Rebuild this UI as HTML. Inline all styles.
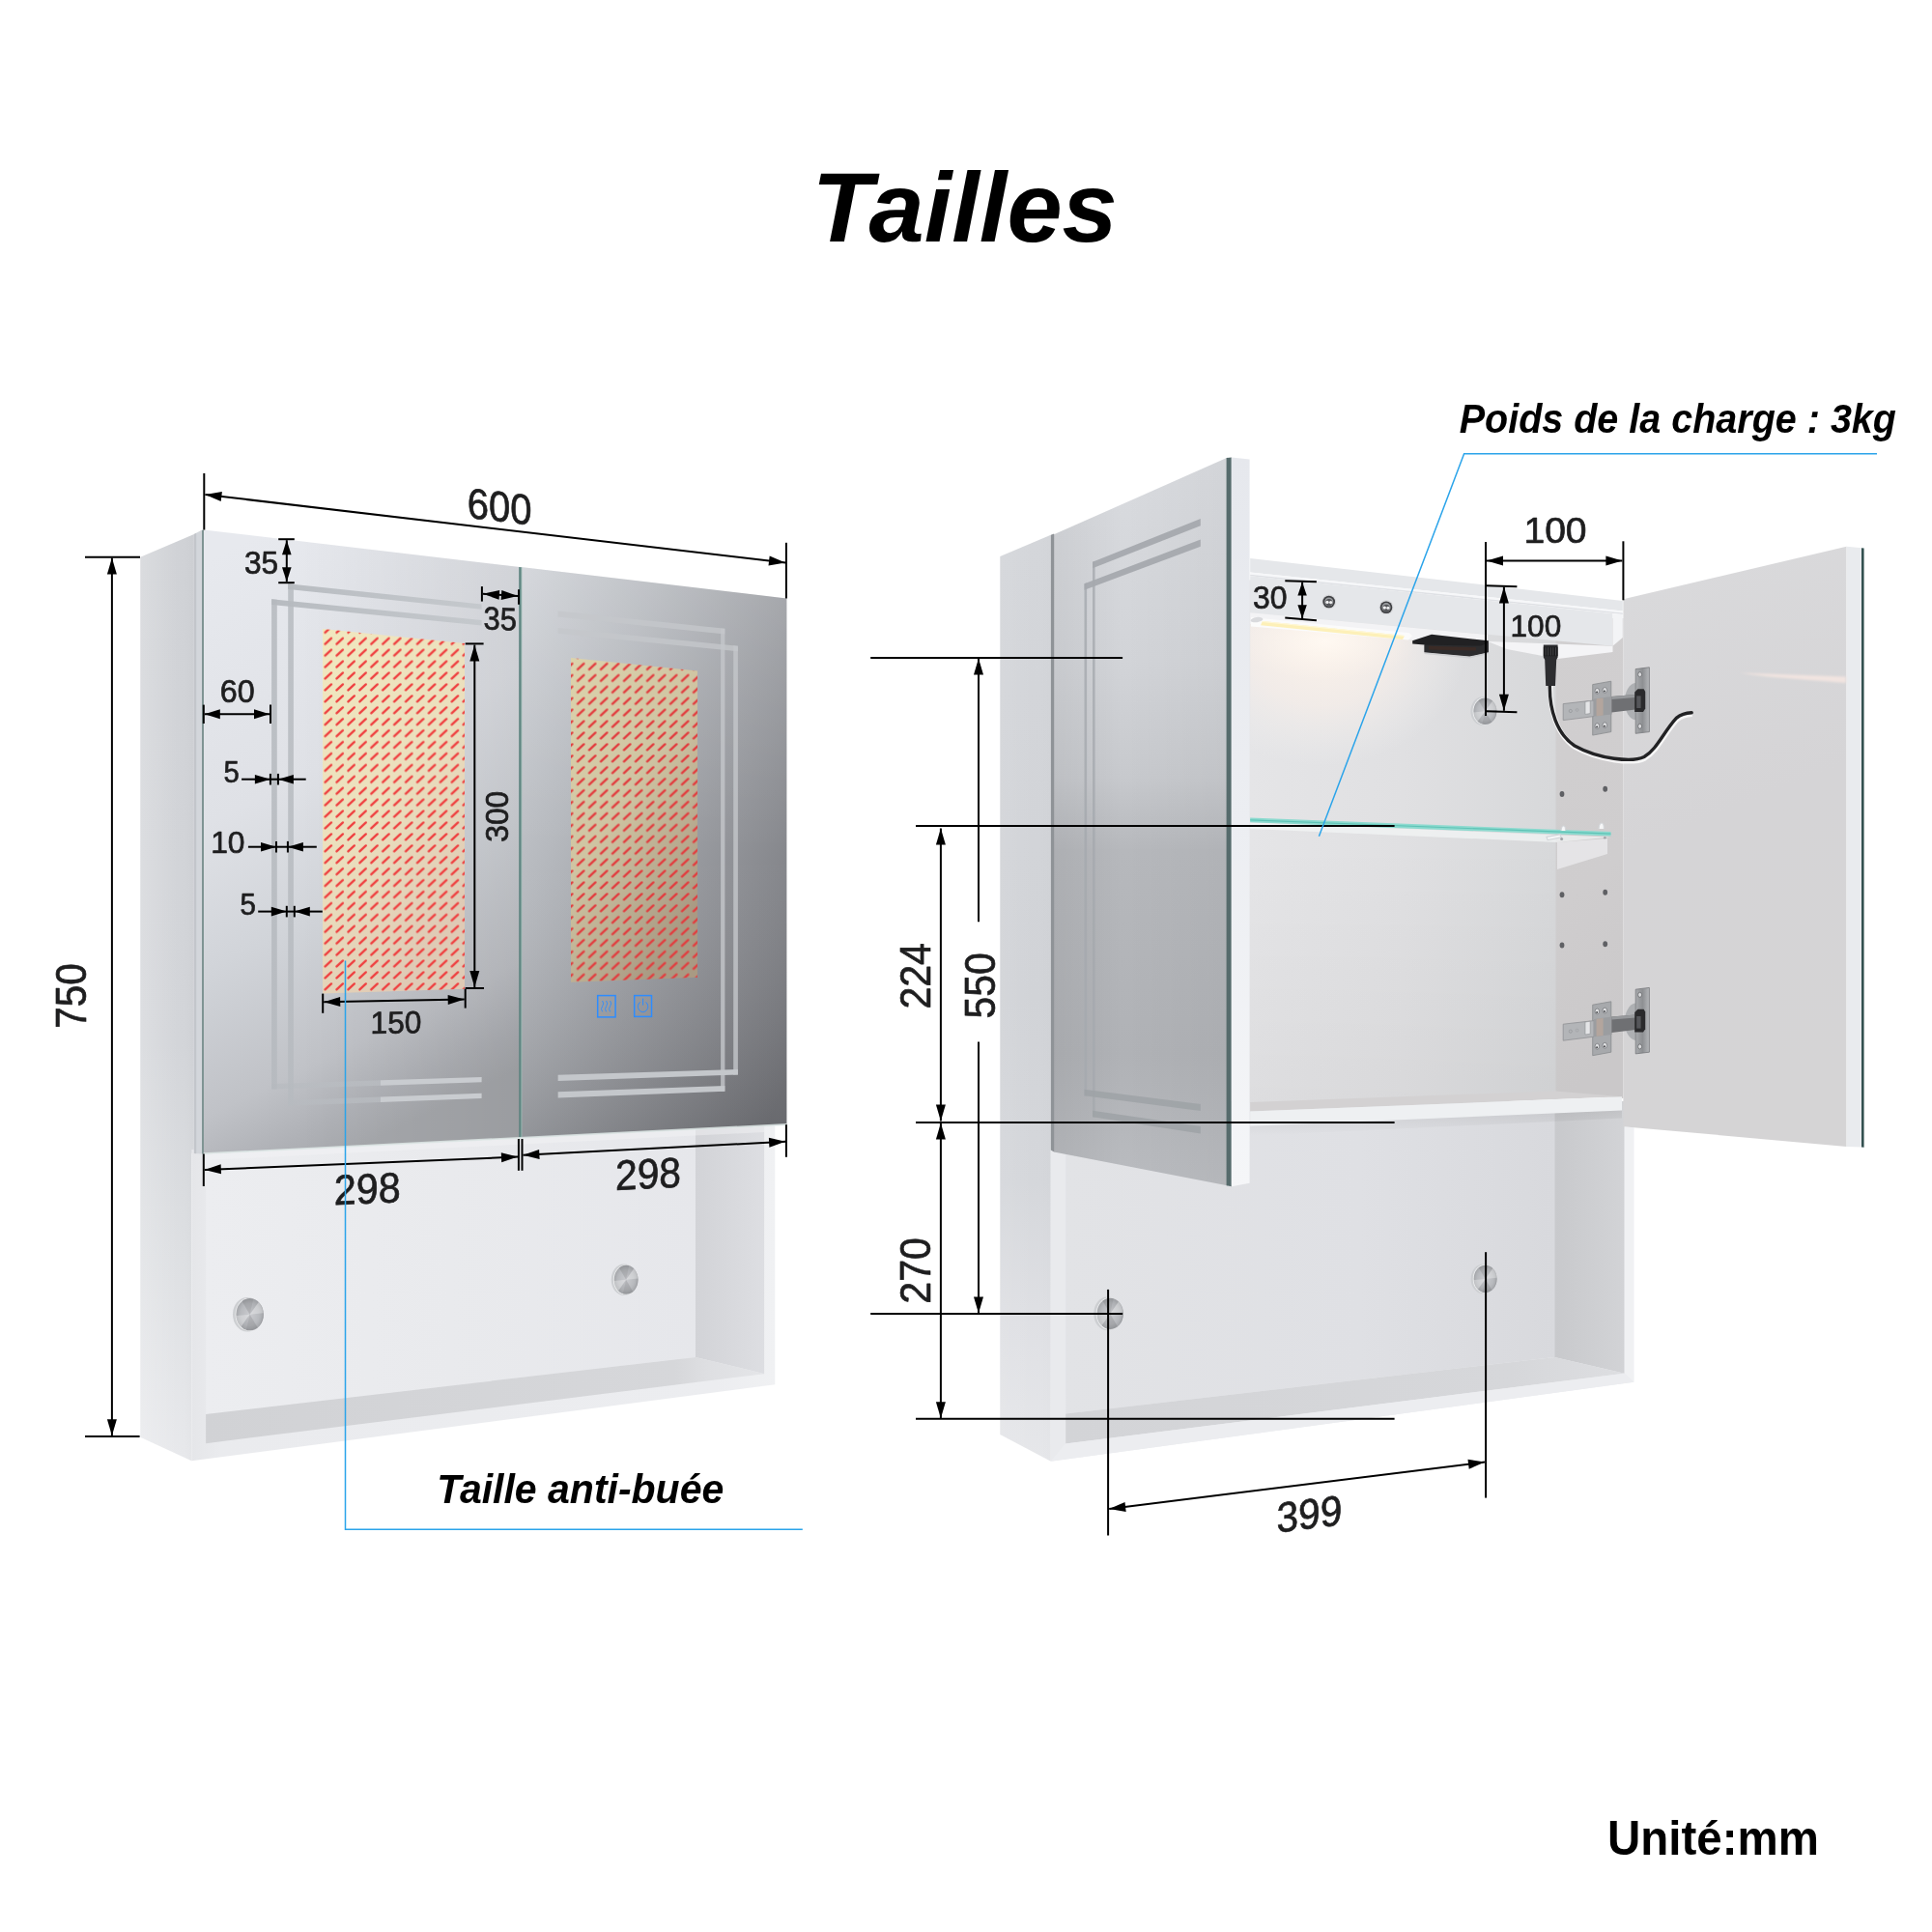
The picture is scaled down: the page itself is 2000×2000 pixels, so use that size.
<!DOCTYPE html>
<html><head><meta charset="utf-8"><title>Tailles</title>
<style>
html,body{margin:0;padding:0;background:#fff;}
body{width:2000px;height:2000px;overflow:hidden;font-family:"Liberation Sans",sans-serif;}
svg{display:block;font-family:"Liberation Sans",sans-serif;opacity:0.999;}
</style></head><body>
<svg xmlns="http://www.w3.org/2000/svg" width="2000" height="2000" viewBox="0 0 2000 2000">
<defs>
<linearGradient id="gSideL" x1="0" y1="0" x2="0" y2="1"><stop offset="0" stop-color="#d0d2d6"/><stop offset="0.55" stop-color="#d3d5d9"/><stop offset="0.76" stop-color="#dddfe2"/><stop offset="1" stop-color="#e8e9ec"/></linearGradient>
<linearGradient id="gSideLx" x1="0" y1="0" x2="1" y2="0"><stop offset="0" stop-color="#fff" stop-opacity="0.22"/><stop offset="0.7" stop-color="#fff" stop-opacity="0"/><stop offset="1" stop-color="#000" stop-opacity="0.02"/></linearGradient>
<linearGradient id="gMirL" x1="0.2" y1="0" x2="0.45" y2="1"><stop offset="0" stop-color="#e7e9ee"/><stop offset="0.40" stop-color="#dfe1e6"/><stop offset="0.62" stop-color="#d1d4d9"/><stop offset="0.84" stop-color="#c0c2c7"/><stop offset="0.94" stop-color="#afb1b6"/><stop offset="1" stop-color="#a7a9ad"/></linearGradient>
<linearGradient id="gMirR" x1="0" y1="0" x2="1" y2="0.9"><stop offset="0" stop-color="#d0d3d8"/><stop offset="0.3" stop-color="#b6b9be"/><stop offset="0.6" stop-color="#999ba0"/><stop offset="1" stop-color="#737479"/></linearGradient>
<linearGradient id="gMirRv" x1="0" y1="0" x2="0" y2="1"><stop offset="0" stop-color="#fff" stop-opacity="0.12"/><stop offset="0.5" stop-color="#fff" stop-opacity="0"/><stop offset="1" stop-color="#000" stop-opacity="0.10"/></linearGradient>
<linearGradient id="gBackL" x1="0" y1="0" x2="1" y2="0"><stop offset="0" stop-color="#ecedf0"/><stop offset="0.5" stop-color="#e9eaed"/><stop offset="1" stop-color="#e6e7eb"/></linearGradient>
<linearGradient id="gWallLR" x1="0" y1="0" x2="1" y2="0"><stop offset="0" stop-color="#d2d3d7"/><stop offset="1" stop-color="#dddee2"/></linearGradient>
<linearGradient id="gFloorL" x1="0" y1="0" x2="1" y2="0"><stop offset="0" stop-color="#d1d2d5"/><stop offset="0.84" stop-color="#d6d7da"/><stop offset="0.9" stop-color="#dedfe2"/><stop offset="1" stop-color="#e4e5e8"/></linearGradient>
<pattern id="padPat" width="11.92" height="11.92" patternUnits="userSpaceOnUse" patternTransform="translate(334.2,658.4)"><line x1="2.4" y1="8.3" x2="8.8" y2="2.4" stroke="#ef4040" stroke-width="2.4" stroke-linecap="round"/></pattern>
<pattern id="padPatR" width="12.0" height="11.92" patternUnits="userSpaceOnUse" patternTransform="translate(595.6,684.6)"><line x1="2.4" y1="8.3" x2="8.8" y2="2.4" stroke="#e23c3e" stroke-width="2.4" stroke-linecap="round"/></pattern>
<linearGradient id="gPadL" x1="0" y1="0" x2="0.5" y2="1"><stop offset="0" stop-color="#f1e8bf"/><stop offset="0.55" stop-color="#ebdfbd"/><stop offset="1" stop-color="#dfcab5"/></linearGradient>
<linearGradient id="gPadR" x1="0" y1="0" x2="0.6" y2="1"><stop offset="0" stop-color="#dcd3ac"/><stop offset="0.5" stop-color="#cfc4a2"/><stop offset="1" stop-color="#a99a83"/></linearGradient>
<radialGradient id="gKnob" cx="0.5" cy="0.5" r="0.5"><stop offset="0" stop-color="#cbccd0"/><stop offset="0.7" stop-color="#b7b9bd"/><stop offset="1" stop-color="#a4a6aa"/></radialGradient>
<linearGradient id="gSideR" x1="0" y1="0" x2="0" y2="1"><stop offset="0" stop-color="#d4d6da"/><stop offset="0.5" stop-color="#d1d3d7"/><stop offset="0.7" stop-color="#d5d7db"/><stop offset="0.85" stop-color="#dfe0e4"/><stop offset="1" stop-color="#e6e7ea"/></linearGradient>
<linearGradient id="gDoorO" x1="0" y1="0" x2="0" y2="1"><stop offset="0" stop-color="#d9dbdf"/><stop offset="0.28" stop-color="#d2d4d8"/><stop offset="0.44" stop-color="#c7c9cd"/><stop offset="0.54" stop-color="#b6b8bc"/><stop offset="0.82" stop-color="#b0b2b6"/><stop offset="1" stop-color="#babcc0"/></linearGradient>
<linearGradient id="gDoorOx" x1="0" y1="0" x2="1" y2="0"><stop offset="0" stop-color="#000" stop-opacity="0.05"/><stop offset="0.4" stop-color="#000" stop-opacity="0"/><stop offset="1" stop-color="#000" stop-opacity="0.03"/></linearGradient>
<linearGradient id="gDoorEdge" x1="0" y1="0" x2="0" y2="1"><stop offset="0" stop-color="#e6e8ed"/><stop offset="0.5" stop-color="#eceef2"/><stop offset="1" stop-color="#f5f6f8"/></linearGradient>
<radialGradient id="gGlow" cx="0.5" cy="0.5" r="0.5"><stop offset="0" stop-color="#fbf2ea" stop-opacity="1"/><stop offset="0.5" stop-color="#f6eee9" stop-opacity="0.75"/><stop offset="1" stop-color="#efefef" stop-opacity="0"/></radialGradient>
<linearGradient id="gDoorR" x1="0" y1="0" x2="0.15" y2="1"><stop offset="0" stop-color="#dadadc"/><stop offset="0.5" stop-color="#d5d4d6"/><stop offset="1" stop-color="#d5d4d5"/></linearGradient>
<linearGradient id="gBackR2" x1="0" y1="0" x2="1" y2="0"><stop offset="0" stop-color="#e2e3e6"/><stop offset="0.6" stop-color="#dfe0e4"/><stop offset="1" stop-color="#d8d9dd"/></linearGradient>
<linearGradient id="gHinge" x1="0" y1="0" x2="1" y2="0"><stop offset="0" stop-color="#a9abae"/><stop offset="0.5" stop-color="#8d8f92"/><stop offset="1" stop-color="#b5b7ba"/></linearGradient>
<linearGradient id="gWallR2" x1="0" y1="0" x2="1" y2="0"><stop offset="0" stop-color="#c8c9cc"/><stop offset="1" stop-color="#d2d3d6"/></linearGradient>
<linearGradient id="gFloorR" x1="0" y1="0" x2="1" y2="0"><stop offset="0" stop-color="#d3d4d7"/><stop offset="0.8" stop-color="#d6d7da"/><stop offset="1" stop-color="#dddee1"/></linearGradient>
<linearGradient id="gMirLx" x1="0" y1="0" x2="1" y2="0"><stop offset="0.3" stop-color="#000" stop-opacity="0"/><stop offset="1" stop-color="#000" stop-opacity="0.075"/></linearGradient>
<linearGradient id="gLedL" gradientUnits="userSpaceOnUse" x1="281" y1="0" x2="499" y2="0"><stop offset="0" stop-color="#b5b9be"/><stop offset="1" stop-color="#c4c8cc"/></linearGradient>
<radialGradient id="gGlow2" cx="0.5" cy="0.5" r="0.5"><stop offset="0" stop-color="#fff9f2" stop-opacity="0.95"/><stop offset="1" stop-color="#fbf3ec" stop-opacity="0"/></radialGradient>
<linearGradient id="gFrameL" x1="0" y1="0" x2="1" y2="0"><stop offset="0" stop-color="#e5e6e9"/><stop offset="0.05" stop-color="#eaebee"/><stop offset="0.9" stop-color="#ecedf0"/><stop offset="1" stop-color="#f0f1f3"/></linearGradient>
<linearGradient id="gBackRU" gradientUnits="userSpaceOnUse" x1="1294" y1="0" x2="1610" y2="0"><stop offset="0" stop-color="#e5e5e7"/><stop offset="0.5" stop-color="#e0e0e2"/><stop offset="1" stop-color="#d7d8da"/></linearGradient>
<linearGradient id="gDarkV" x1="0" y1="0" x2="0" y2="1"><stop offset="0" stop-color="#000" stop-opacity="0"/><stop offset="0.5" stop-color="#000" stop-opacity="0"/><stop offset="1" stop-color="#000" stop-opacity="0.035"/></linearGradient>
<linearGradient id="gWallRU" x1="0" y1="0" x2="0.12" y2="1"><stop offset="0" stop-color="#d1cfd0"/><stop offset="0.6" stop-color="#cfcdce"/><stop offset="1" stop-color="#cac8c9"/></linearGradient>
<linearGradient id="gShelfSh" x1="0" y1="0" x2="0" y2="1"><stop offset="0" stop-color="#000" stop-opacity="0.07"/><stop offset="1" stop-color="#000" stop-opacity="0"/></linearGradient>
<filter id="b1"><feGaussianBlur stdDeviation="1"/></filter>
<filter id="b3"><feGaussianBlur stdDeviation="3"/></filter>
<filter id="b12"><feGaussianBlur stdDeviation="14"/></filter>
</defs>

<text transform="translate(847.6,250.1) scale(1.013,1)" x="-7" y="0" font-size="101.5" font-weight="bold" font-style="italic" fill="#000">Tailles</text>
<text transform="translate(1666.7,1920.4) scale(0.939,1)" x="-3" y="0" font-size="50.6" font-weight="bold" fill="#000">Unité:mm</text>
<text transform="translate(1511.6,447.8) scale(0.921,1)" x="-1" y="0" font-size="42.9" font-weight="bold" font-style="italic" fill="#000">Poids de la charge : 3kg</text>
<text transform="translate(455.2,1555.6) scale(0.947,1)" x="-3" y="0" font-size="43.3" font-weight="bold" font-style="italic" fill="#000">Taille anti-buée</text>
<g id="leftcab">
<polygon points="145.3,576.8 200.9,553.0 200.9,1194.0 198.3,1194.0 198.3,1512.3 145.3,1487.7" fill="url(#gSideL)"/>
<polygon points="145.3,576.8 200.9,553.0 200.9,1194.0 198.3,1194.0 198.3,1512.3 145.3,1487.7" fill="url(#gSideLx)"/>
<polygon points="198.3,1190.0 802.3,1160.0 802.3,1433.3 198.3,1512.3" fill="url(#gFrameL)"/>
<polygon points="213.1,1190.0 720.0,1165.0 720.0,1404.9 213.1,1464.0" fill="url(#gBackL)"/>
<polygon points="720.0,1165.0 791.1,1162.0 791.1,1422.2 720.0,1404.9" fill="url(#gWallLR)"/>
<polygon points="213.1,1464.0 720.0,1404.9 791.1,1422.2 213.1,1494.2" fill="url(#gFloorL)"/>
<polygon points="213.1,1188.0 791.1,1160.0 791.1,1172.0 213.1,1201.0" fill="#f4f5f7" opacity="0.45"/>
<polygon points="200.9,553.0 209.2,548.6 209.2,1194.5 200.9,1194.0" fill="#d3d6db"/>
<polygon points="200.9,553.0 203.2,551.8 203.2,1194.2 200.9,1194.0" fill="#c3c6cb"/>
<polygon points="210.8,548.5 538.2,587.0 538.2,1178.1 210.8,1194.5" fill="url(#gMirL)"/>
<polygon points="210.8,548.5 538.2,587.0 538.2,1178.1 210.8,1194.5" fill="url(#gMirLx)"/>
<polygon points="539.4,587.1 814.4,619.5 814.4,1164.3 539.4,1178.1" fill="url(#gMirR)"/>
<polygon points="539.4,587.1 814.4,619.5 814.4,1164.3 539.4,1178.1" fill="url(#gMirRv)"/>
<polygon points="209.0,548.7 211.0,548.5 211.0,1194.5 209.0,1194.5" fill="#7f9493"/>
<polygon points="537.2,586.9 540.0,587.2 540.0,1178.0 537.2,1178.2" fill="#5f8581"/>
<polygon points="539.4,587.1 540.4,587.3 540.4,1178.0 539.4,1178.1" fill="#9dbab6" opacity="0.9"/>
<polygon points="210.8,1193.3 814.4,1163.1 814.4,1164.9 210.8,1195.1" fill="#dfe9e8" opacity="0.85"/>
<polygon points="298.2,604.2 498.6,625.4 498.6,630.8 298.2,609.9" fill="url(#gLedL)" opacity="0.95"/>
<polygon points="298.2,604.2 303.9,604.8 303.9,1144.5 298.2,1144.7" fill="url(#gLedL)" opacity="0.85"/>
<polygon points="281.1,620.2 498.6,642.1 498.6,647.5 281.1,625.9" fill="url(#gLedL)" opacity="0.95"/>
<polygon points="281.1,620.2 286.8,620.8 286.8,1127.4 281.1,1127.6" fill="url(#gLedL)" opacity="0.85"/>
<polygon points="281.1,1121.9 394.0,1118.3 394.0,1123.8 281.1,1127.6" fill="url(#gLedL)" opacity="0.6"/>
<polygon points="298.2,1139.0 394.0,1135.5 394.0,1141.0 298.2,1144.7" fill="url(#gLedL)" opacity="0.6"/>
<polygon points="394.0,1118.3 498.6,1115.0 498.6,1120.3 394.0,1123.8" fill="#c9ccd0"/>
<polygon points="394.0,1135.5 498.6,1131.7 498.6,1137.1 394.0,1141.0" fill="#c9ccd0"/>
<polygon points="577.6,632.6 750.4,650.8 750.4,656.4 577.6,638.4" fill="#c4c7cb" opacity="0.8"/>
<polygon points="746.1,650.4 750.4,650.8 750.4,1129.7 746.1,1129.9" fill="#c4c7cb" opacity="0.8"/>
<polygon points="577.6,1130.3 750.4,1123.9 750.4,1129.7 577.6,1136.4" fill="#c4c7cb" opacity="1"/>
<polygon points="577.6,649.9 763.9,668.7 763.9,674.2 577.6,655.7" fill="#c4c7cb" opacity="0.8"/>
<polygon points="759.2,668.2 763.9,668.7 763.9,1112.6 759.2,1112.8" fill="#c4c7cb" opacity="0.8"/>
<polygon points="577.6,1112.8 763.9,1106.9 763.9,1112.6 577.6,1118.9" fill="#c4c7cb" opacity="1"/>
<polygon points="334.0,650.9 481.0,665.9 481.0,1023.7 334.0,1028.6" fill="url(#gPadL)"/><polygon points="334.0,650.9 481.0,665.9 481.0,1023.7 334.0,1028.6" fill="url(#padPat)"/>
<polygon points="591.0,681.0 722.0,694.4 722.0,1011.7 591.0,1016.7" fill="url(#gPadR)"/><polygon points="591.0,681.0 722.0,694.4 722.0,1011.7 591.0,1016.7" fill="url(#padPatR)"/>
<g fill="none" stroke="#2d8cff" stroke-width="1.5"><rect x="618.7" y="1030.6" width="18.4" height="22.3"/><rect x="656.7" y="1030.6" width="17.8" height="21.8"/><path d="M623.6,1036 q2.2,3 0,5.6 q-2.2,2.8 0,5.8 M627.6,1036 q2.2,3 0,5.6 q-2.2,2.8 0,5.8 M631.6,1036 q2.2,3 0,5.6 q-2.2,2.8 0,5.8" stroke-width="0.9"/><path d="M662.6,1037.4 a5.2,5.6 0 1 0 6,0 M665.6,1033.6 v7" stroke-width="1.0"/></g>
<ellipse cx="256.0" cy="1360.7" rx="15.0" ry="17.8" fill="#cdcfd2"/>
<ellipse cx="257.8" cy="1360.7" rx="14.2" ry="17.0" fill="#f1f2f3"/>
<ellipse cx="258.6" cy="1360.7" rx="14.2" ry="16.6" fill="url(#gKnob)"/>
<path d="M261.4,1344.4 A14.2,16.6 0 0 1 261.4,1377.0 A13.2,16.6 0 0 0 261.4,1344.4 Z" fill="#8e9094" opacity="0.55"/>
<path d="M258.6,1360.7 L267.7,1348.0 A14.2,16.6 0 0 1 272.7,1359.3 Z" fill="#fff" opacity="0.3"/>
<path d="M258.6,1360.7 L249.5,1373.4 A14.2,16.6 0 0 1 244.5,1362.1 Z" fill="#fff" opacity="0.3"/>
<path d="M258.6,1360.7 L250.5,1347.1 A14.2,16.6 0 0 1 262.3,1344.7 Z" fill="#000" opacity="0.1"/>
<path d="M258.6,1360.7 L266.7,1374.3 A14.2,16.6 0 0 1 254.9,1376.7 Z" fill="#000" opacity="0.1"/>
<path d="M258.6,1360.7 L262.3,1344.7 A14.2,16.6 0 0 1 267.7,1348.0 Z" fill="#000" opacity="0.04"/>
<path d="M258.6,1360.7 L254.9,1376.7 A14.2,16.6 0 0 1 249.5,1373.4 Z" fill="#000" opacity="0.04"/>
<ellipse cx="645.9" cy="1324.8" rx="13.2" ry="16.2" fill="#cdcfd2"/>
<ellipse cx="647.3" cy="1324.8" rx="12.4" ry="15.4" fill="#f1f2f3"/>
<ellipse cx="648.1" cy="1324.8" rx="12.4" ry="15.0" fill="url(#gKnob)"/>
<path d="M650.6,1310.1 A12.4,15.0 0 0 1 650.6,1339.5 A11.5,15.0 0 0 0 650.6,1310.1 Z" fill="#8e9094" opacity="0.55"/>
<path d="M648.1,1324.8 L656.1,1313.3 A12.4,15.0 0 0 1 660.5,1323.5 Z" fill="#fff" opacity="0.3"/>
<path d="M648.1,1324.8 L640.1,1336.3 A12.4,15.0 0 0 1 635.7,1326.1 Z" fill="#fff" opacity="0.3"/>
<path d="M648.1,1324.8 L641.0,1312.5 A12.4,15.0 0 0 1 651.3,1310.3 Z" fill="#000" opacity="0.1"/>
<path d="M648.1,1324.8 L655.2,1337.1 A12.4,15.0 0 0 1 644.9,1339.3 Z" fill="#000" opacity="0.1"/>
<path d="M648.1,1324.8 L651.3,1310.3 A12.4,15.0 0 0 1 656.1,1313.3 Z" fill="#000" opacity="0.04"/>
<path d="M648.1,1324.8 L644.9,1339.3 A12.4,15.0 0 0 1 640.1,1336.3 Z" fill="#000" opacity="0.04"/>
</g>
<g id="rightcab">
<polygon points="1087.8,1150.0 1691.3,1150.0 1691.3,1430.8 1087.8,1512.7" fill="#ecedf0"/>
<polygon points="1103.1,1140.0 1609.3,1140.0 1609.3,1404.9 1103.1,1463.5" fill="url(#gBackR2)"/>
<polygon points="1609.3,1140.0 1681.7,1140.0 1681.7,1421.7 1609.3,1404.9" fill="url(#gWallR2)"/>
<polygon points="1103.1,1463.5 1609.3,1404.9 1681.7,1421.7 1103.1,1494.6" fill="url(#gFloorR)"/>
<polygon points="1290.0,600.0 1612.0,640.0 1612.0,1134.0 1290.0,1142.0" fill="url(#gBackRU)"/>
<polygon points="1290.0,600.0 1612.0,640.0 1612.0,1134.0 1290.0,1142.0" fill="url(#gDarkV)"/>
<clipPath id="cGlow"><polygon points="1294.2,646.0 1462.0,662.5 1540.0,666.0 1612.0,682.0 1612.0,1134.0 1294.2,1142.0"/></clipPath>
<g clip-path="url(#cGlow)"><ellipse cx="1368" cy="668" rx="150" ry="125" fill="url(#gGlow)"/><ellipse cx="1372" cy="664" rx="95" ry="40" fill="url(#gGlow2)"/></g>
<polygon points="1610.5,640.0 1680.4,640.0 1680.4,1137.0 1610.5,1130.5" fill="url(#gWallRU)"/>
<polygon points="1540.0,664.0 1669.5,668.7 1669.5,675.0 1612.6,682.0 1560.0,672.0" fill="#f4f4f6"/>
<polygon points="1294.2,1140.9 1610.0,1129.6 1679.0,1135.3 1294.2,1150.6" fill="#d3d1d2"/>
<polygon points="1294.2,1150.6 1679.0,1135.3 1679.0,1149.6 1294.2,1165.7" fill="#eef0f2"/>
<polygon points="1294.2,1165.7 1679.0,1149.6 1679.0,1157.6 1294.2,1175.7" fill="url(#gShelfSh)"/>
<polygon points="1294.2,577.9 1679.8,621.9 1679.8,632.4 1294.2,592.6" fill="#e5e7ea"/>
<polygon points="1294.2,592.6 1679.8,632.4 1679.8,634.4 1294.2,594.8" fill="#f6f7f9"/>
<polygon points="1294.2,594.8 1679.8,634.4 1679.8,636.0 1294.2,596.2" fill="#dfe1e5"/>
<polygon points="1294.2,596.2 1669.5,635.2 1669.5,668.7 1294.2,634.2" fill="#e5e7ea"/>
<polygon points="1669.5,635.2 1679.8,636.0 1679.8,660.0 1669.5,668.7" fill="#f3f4f6"/>
<polygon points="1294.2,634.2 1540.0,657.0 1540.0,664.0 1462.0,662.5 1294.2,646.0" fill="#f3f3f5"/>
<polygon points="1295.0,638.9 1459.0,655.2 1462.0,658.2 1458.0,662.6 1295.0,648.4" fill="#fbfbfb"/>
<polygon points="1307.0,643.0 1454.0,658.0 1452.0,662.0 1305.0,647.2" fill="#fdf0b8"/>
<polygon points="1307.0,643.0 1454.0,658.0 1453.6,659.0 1306.6,644.0" fill="#fff8d8"/>
<ellipse cx="1301" cy="641.6" rx="6.5" ry="2.6" fill="#d9dadd" transform="rotate(-8 1301 641.6)"/>
<circle cx="1375.7" cy="623.0" r="7.4" fill="#d4d5d8"/><circle cx="1375.7" cy="623.0" r="6.3" fill="#3e3f42"/><circle cx="1375.7" cy="623.0" r="4.6" fill="#9b9da0"/><circle cx="1375.7" cy="623.6" r="3.6" fill="#55565a"/>
<circle cx="1374.0" cy="623.4" r="1.7" fill="#f4f4f5"/><circle cx="1377.6000000000001" cy="623.6" r="1.6" fill="#eeeeef"/>
<circle cx="1435.0" cy="628.7" r="7.4" fill="#d4d5d8"/><circle cx="1435.0" cy="628.7" r="6.3" fill="#3e3f42"/><circle cx="1435.0" cy="628.7" r="4.6" fill="#9b9da0"/><circle cx="1435.0" cy="629.3000000000001" r="3.6" fill="#55565a"/>
<circle cx="1433.3" cy="629.1" r="1.7" fill="#f4f4f5"/><circle cx="1436.9" cy="629.3000000000001" r="1.6" fill="#eeeeef"/>
<polygon points="1462.2,663.3 1482.0,656.7 1540.9,663.3 1540.9,675.2 1521.3,679.6 1474.6,675.2 1474.6,667.6 1462.2,666.6" fill="#212123"/>
<polygon points="1474.6,667.6 1533.0,668.6 1540.9,665.4 1540.9,675.2 1521.3,679.6 1474.6,675.2" fill="#2c2c2e"/>
<polygon points="1479.0,668.8 1528.0,670.2 1528.0,673.6 1479.0,672.6" fill="#3b2b26"/>
<polygon points="1474.6,675.2 1521.3,679.6 1540.9,675.2 1540.9,677.0 1521.3,681.4 1474.6,676.9" fill="#c9cacd" opacity="0.8"/>
<ellipse cx="1617" cy="822" rx="2.4" ry="3.0" fill="#5f6064"/>
<ellipse cx="1661.7" cy="816.8" rx="2.4" ry="3.0" fill="#5f6064"/>
<ellipse cx="1617" cy="926.3" rx="2.4" ry="3.0" fill="#5f6064"/>
<ellipse cx="1661.7" cy="923.7" rx="2.4" ry="3.0" fill="#5f6064"/>
<ellipse cx="1617" cy="978.6" rx="2.4" ry="3.0" fill="#5f6064"/>
<ellipse cx="1661.7" cy="977.3" rx="2.4" ry="3.0" fill="#5f6064"/>
<polygon points="1294.2,851.5 1666.9,866.5 1612.0,872.0 1294.2,858.0" fill="#f4f6f6" opacity="0.7"/>
<polygon points="1294.2,846.6 1667.5,861.0 1667.5,865.6 1294.2,851.2" fill="#8cdacf"/>
<polygon points="1294.2,848.2 1667.5,862.6 1667.5,863.8 1294.2,849.4" fill="#5fc3b6"/>
<g stroke="#d3d6da" stroke-width="1.2" fill="#f6f7f8"><path d="M1601,866.4 l14,-2.6 l1.2,3 l-14,2.8 z"/><path d="M1655,858 q0.6,-6 3,-6 q2.4,0 2.4,6"/><path d="M1616,860 q0.6,-5 2.6,-5 q2,0 2,5"/></g>
<circle cx="1616.6" cy="868.6" r="1.5" fill="#9fa2a6"/><circle cx="1661.4" cy="867.6" r="1.5" fill="#9fa2a6"/>
<polygon points="1612.0,872.0 1664.0,868.0 1664.0,884.0 1612.0,900.0" fill="#f4f4f6" opacity="0.6"/>
<polygon points="1680.4,620.2 1911.5,565.8 1911.5,1186.9 1680.4,1166.2" fill="url(#gDoorR)"/>
<polygon points="1911.5,565.8 1927.2,567.2 1927.2,1187.6 1911.5,1186.9" fill="#e9ebee"/>
<polygon points="1927.0,567.2 1929.6,567.6 1929.6,1187.8 1927.0,1187.6" fill="#345150"/>
<polygon points="1800.6,696.6 1911.0,700.6 1911.0,707.0 1830.0,700.6" fill="#f1e4e0" filter="url(#b1)"/>
<path d="M1604.4,708 C1603.5,735 1612,760 1630,772 C1655,786 1690,789.5 1702,783.5 C1715,776 1722,758 1735.3,743.4 C1740,739.5 1746,738 1751.2,737.8" fill="none" stroke="#fff" stroke-width="5.2" opacity="0.8" transform="translate(0.6,1.6)"/>
<path d="M1604.4,708 C1603.5,735 1612,760 1630,772 C1655,786 1690,789.5 1702,783.5 C1715,776 1722,758 1735.3,743.4 C1740,739.5 1746,738 1751.2,737.8" fill="none" stroke="#222224" stroke-width="3.4" stroke-linecap="round"/>
<polygon points="1597.8,667.6 1612.6,667.6 1612.6,680.5 1611.2,683.0 1610.0,710.0 1600.2,710.0 1599.2,683.0 1597.8,680.5" fill="#2d2d30"/>
<rect x="1597.8" y="669.6" width="14.8" height="9.6" fill="#1c1c1e"/>
<rect x="1599.6" y="670.2" width="0.9" height="8.4" fill="#4a4a4d"/>
<rect x="1602.2" y="670.2" width="0.9" height="8.4" fill="#4a4a4d"/>
<rect x="1604.8" y="670.2" width="0.9" height="8.4" fill="#4a4a4d"/>
<rect x="1607.4" y="670.2" width="0.9" height="8.4" fill="#4a4a4d"/>
<rect x="1610.0" y="670.2" width="0.9" height="8.4" fill="#4a4a4d"/>
<g transform="translate(0,0)">
<path d="M1693,707 A12,19.2 0 0 0 1693,745.3 Z" fill="#aeb0b3"/>
<polygon points="1648.7,708.6 1667.8,705.2 1667.8,757.6 1648.7,761.1" fill="#a7a9ac" stroke="#898b8e" stroke-width="0.8"/>
<polygon points="1618.2,728.6 1650.0,725.0 1650.0,741.6 1618.2,745.6" fill="#b3b5b8" stroke="#8f9194" stroke-width="0.8"/>
<polygon points="1641.0,726.4 1646.2,725.6 1646.2,738.6 1641.0,739.4" fill="#e4e5e7" stroke="#8f9194" stroke-width="0.6"/>
<polygon points="1650.0,723.4 1668.6,721.0 1668.6,739.4 1650.0,741.6" fill="#9b9da0"/>
<polygon points="1652.6,723.2 1659.6,722.4 1659.6,740.4 1652.6,741.2" fill="#b9a89c" opacity="0.8"/>
<polygon points="1668.3,721.0 1693.0,719.0 1693.0,734.4 1668.3,737.4" fill="#6f7073"/>
<polygon points="1668.3,721.0 1693.0,719.0 1693.0,722.0 1668.3,724.0" fill="#97999c"/>
<polygon points="1693.2,692.6 1707.4,690.8 1707.4,757.6 1693.2,759.3" fill="url(#gHinge)" stroke="#77797c" stroke-width="0.8"/>
<polygon points="1692.2,716.4 1695.4,713.2 1701.6,713.2 1703.2,716.0 1703.2,733.6 1701.0,736.9 1692.2,736.9" fill="#2a2a2c"/>
<polygon points="1694.2,720.4 1698.6,720.4 1698.6,733.0 1694.2,733.0" fill="#55565a"/>
<ellipse cx="1653.4" cy="715.4" rx="2.3" ry="2.9" fill="#dfe0e2" stroke="#6d6f72" stroke-width="0.7"/><circle cx="1653.1000000000001" cy="716.4" r="1.0" fill="#4a4b4e"/>
<ellipse cx="1661.3" cy="714.5" rx="2.3" ry="2.9" fill="#dfe0e2" stroke="#6d6f72" stroke-width="0.7"/><circle cx="1661.0" cy="715.5" r="1.0" fill="#4a4b4e"/>
<ellipse cx="1653.4" cy="751.6" rx="2.3" ry="2.9" fill="#dfe0e2" stroke="#6d6f72" stroke-width="0.7"/><circle cx="1653.1000000000001" cy="752.6" r="1.0" fill="#4a4b4e"/>
<ellipse cx="1661.3" cy="750.7" rx="2.3" ry="2.9" fill="#dfe0e2" stroke="#6d6f72" stroke-width="0.7"/><circle cx="1661.0" cy="751.7" r="1.0" fill="#4a4b4e"/>
<ellipse cx="1697.6" cy="698.2" rx="2.0" ry="2.5" fill="#d9dadc" stroke="#5d5f62" stroke-width="0.7"/>
<ellipse cx="1697.6" cy="751.8" rx="2.0" ry="2.5" fill="#d9dadc" stroke="#5d5f62" stroke-width="0.7"/>
<circle cx="1625.8" cy="736" r="1.6" fill="none" stroke="#8f9194" stroke-width="0.6"/><circle cx="1632.6" cy="735" r="1.4" fill="none" stroke="#9a9c9f" stroke-width="0.6"/>
</g>
<g transform="translate(0,331.6)">
<path d="M1693,707 A12,19.2 0 0 0 1693,745.3 Z" fill="#aeb0b3"/>
<polygon points="1648.7,708.6 1667.8,705.2 1667.8,757.6 1648.7,761.1" fill="#a7a9ac" stroke="#898b8e" stroke-width="0.8"/>
<polygon points="1618.2,728.6 1650.0,725.0 1650.0,741.6 1618.2,745.6" fill="#b3b5b8" stroke="#8f9194" stroke-width="0.8"/>
<polygon points="1641.0,726.4 1646.2,725.6 1646.2,738.6 1641.0,739.4" fill="#e4e5e7" stroke="#8f9194" stroke-width="0.6"/>
<polygon points="1650.0,723.4 1668.6,721.0 1668.6,739.4 1650.0,741.6" fill="#9b9da0"/>
<polygon points="1652.6,723.2 1659.6,722.4 1659.6,740.4 1652.6,741.2" fill="#b9a89c" opacity="0.8"/>
<polygon points="1668.3,721.0 1693.0,719.0 1693.0,734.4 1668.3,737.4" fill="#6f7073"/>
<polygon points="1668.3,721.0 1693.0,719.0 1693.0,722.0 1668.3,724.0" fill="#97999c"/>
<polygon points="1693.2,692.6 1707.4,690.8 1707.4,757.6 1693.2,759.3" fill="url(#gHinge)" stroke="#77797c" stroke-width="0.8"/>
<polygon points="1692.2,716.4 1695.4,713.2 1701.6,713.2 1703.2,716.0 1703.2,733.6 1701.0,736.9 1692.2,736.9" fill="#2a2a2c"/>
<polygon points="1694.2,720.4 1698.6,720.4 1698.6,733.0 1694.2,733.0" fill="#55565a"/>
<ellipse cx="1653.4" cy="715.4" rx="2.3" ry="2.9" fill="#dfe0e2" stroke="#6d6f72" stroke-width="0.7"/><circle cx="1653.1000000000001" cy="716.4" r="1.0" fill="#4a4b4e"/>
<ellipse cx="1661.3" cy="714.5" rx="2.3" ry="2.9" fill="#dfe0e2" stroke="#6d6f72" stroke-width="0.7"/><circle cx="1661.0" cy="715.5" r="1.0" fill="#4a4b4e"/>
<ellipse cx="1653.4" cy="751.6" rx="2.3" ry="2.9" fill="#dfe0e2" stroke="#6d6f72" stroke-width="0.7"/><circle cx="1653.1000000000001" cy="752.6" r="1.0" fill="#4a4b4e"/>
<ellipse cx="1661.3" cy="750.7" rx="2.3" ry="2.9" fill="#dfe0e2" stroke="#6d6f72" stroke-width="0.7"/><circle cx="1661.0" cy="751.7" r="1.0" fill="#4a4b4e"/>
<ellipse cx="1697.6" cy="698.2" rx="2.0" ry="2.5" fill="#d9dadc" stroke="#5d5f62" stroke-width="0.7"/>
<ellipse cx="1697.6" cy="751.8" rx="2.0" ry="2.5" fill="#d9dadc" stroke="#5d5f62" stroke-width="0.7"/>
<circle cx="1625.8" cy="736" r="1.6" fill="none" stroke="#8f9194" stroke-width="0.6"/><circle cx="1632.6" cy="735" r="1.4" fill="none" stroke="#9a9c9f" stroke-width="0.6"/>
</g>
</g>
<g id="rightcab2">
<polygon points="1035.3,576.1 1087.8,553.8 1087.8,1512.7 1035.3,1485.0" fill="url(#gSideR)"/>
<polygon points="1035.3,576.1 1087.8,553.8 1087.8,1512.7 1035.3,1485.0" fill="url(#gSideLx)" opacity="0.3"/>
<polygon points="1087.8,1180.0 1103.1,1185.0 1103.1,1494.6 1087.8,1512.7" fill="#e9eaed"/>
<polygon points="1087.8,1512.7 1103.1,1494.6 1681.7,1421.7 1691.3,1430.8" fill="#ecedf0"/>
<polygon points="1681.7,1166.4 1691.3,1167.2 1691.3,1430.8 1681.7,1421.7" fill="#f0f1f3"/>
<polygon points="1091.0,553.3 1270.4,473.8 1270.4,1227.3 1091.0,1192.4" fill="url(#gDoorO)"/>
<polygon points="1091.0,553.3 1270.4,473.8 1270.4,1227.3 1091.0,1192.4" fill="url(#gDoorOx)"/>
<polygon points="1087.8,553.8 1091.2,552.6 1091.2,1192.6 1087.8,1190.5" fill="#8f9397"/>
<polygon points="1131.0,581.7 1242.8,537.1 1242.8,544.3 1131.0,588.2" fill="#a5a9ae" opacity="0.95"/>
<polygon points="1131.0,581.7 1133.6,580.7 1133.6,1156.7 1131.0,1156.3" fill="#a5a9ae" opacity="0.8"/>
<polygon points="1131.0,1149.7 1242.8,1166.0 1242.8,1173.4 1131.0,1156.3" fill="#9ea2a6" opacity="0.85"/>
<polygon points="1122.5,604.3 1242.8,558.6 1242.8,565.8 1122.5,610.8" fill="#a5a9ae" opacity="0.95"/>
<polygon points="1122.5,604.3 1125.1,603.3 1125.1,1134.5 1122.5,1134.2" fill="#a5a9ae" opacity="0.8"/>
<polygon points="1122.5,1127.7 1242.8,1142.9 1242.8,1150.1 1122.5,1134.2" fill="#9ea2a6" opacity="0.85"/>
<polygon points="1269.6,473.9 1274.8,473.6 1274.8,1228.2 1269.6,1227.2" fill="#566b6c"/>
<polygon points="1274.8,473.6 1293.6,475.6 1293.6,1224.8 1274.8,1228.2" fill="url(#gDoorEdge)"/>
<ellipse cx="1146.6" cy="1359.9" rx="14.4" ry="17.4" fill="#cdcfd2"/>
<ellipse cx="1148.4" cy="1359.9" rx="13.6" ry="16.6" fill="#f1f2f3"/>
<ellipse cx="1149.2" cy="1359.9" rx="13.6" ry="16.2" fill="url(#gKnob)"/>
<path d="M1151.9,1344.0 A13.6,16.2 0 0 1 1151.9,1375.8 A12.6,16.2 0 0 0 1151.9,1344.0 Z" fill="#8e9094" opacity="0.55"/>
<path d="M1149.2,1359.9 L1157.9,1347.5 A13.6,16.2 0 0 1 1162.7,1358.5 Z" fill="#fff" opacity="0.3"/>
<path d="M1149.2,1359.9 L1140.5,1372.3 A13.6,16.2 0 0 1 1135.7,1361.3 Z" fill="#fff" opacity="0.3"/>
<path d="M1149.2,1359.9 L1141.4,1346.6 A13.6,16.2 0 0 1 1152.7,1344.3 Z" fill="#000" opacity="0.1"/>
<path d="M1149.2,1359.9 L1157.0,1373.2 A13.6,16.2 0 0 1 1145.7,1375.5 Z" fill="#000" opacity="0.1"/>
<path d="M1149.2,1359.9 L1152.7,1344.3 A13.6,16.2 0 0 1 1157.9,1347.5 Z" fill="#000" opacity="0.04"/>
<path d="M1149.2,1359.9 L1145.7,1375.5 A13.6,16.2 0 0 1 1140.5,1372.3 Z" fill="#000" opacity="0.04"/>
<ellipse cx="1535.4" cy="1323.9" rx="12.8" ry="15.4" fill="#cdcfd2"/>
<ellipse cx="1536.8" cy="1323.9" rx="12.0" ry="14.6" fill="#f1f2f3"/>
<ellipse cx="1537.6" cy="1323.9" rx="12.0" ry="14.2" fill="url(#gKnob)"/>
<path d="M1540.0,1310.0 A12.0,14.2 0 0 1 1540.0,1337.8 A11.2,14.2 0 0 0 1540.0,1310.0 Z" fill="#8e9094" opacity="0.55"/>
<path d="M1537.6,1323.9 L1545.3,1313.0 A12.0,14.2 0 0 1 1549.6,1322.7 Z" fill="#fff" opacity="0.3"/>
<path d="M1537.6,1323.9 L1529.9,1334.8 A12.0,14.2 0 0 1 1525.6,1325.1 Z" fill="#fff" opacity="0.3"/>
<path d="M1537.6,1323.9 L1530.7,1312.3 A12.0,14.2 0 0 1 1540.7,1310.2 Z" fill="#000" opacity="0.1"/>
<path d="M1537.6,1323.9 L1544.5,1335.5 A12.0,14.2 0 0 1 1534.5,1337.6 Z" fill="#000" opacity="0.1"/>
<path d="M1537.6,1323.9 L1540.7,1310.2 A12.0,14.2 0 0 1 1545.3,1313.0 Z" fill="#000" opacity="0.04"/>
<path d="M1537.6,1323.9 L1534.5,1337.6 A12.0,14.2 0 0 1 1529.9,1334.8 Z" fill="#000" opacity="0.04"/>
<ellipse cx="1535.2" cy="736.2" rx="12.8" ry="15.0" fill="#cdcfd2"/>
<ellipse cx="1536.6" cy="736.2" rx="12.0" ry="14.2" fill="#f1f2f3"/>
<ellipse cx="1537.4" cy="736.2" rx="12.0" ry="13.8" fill="url(#gKnob)"/>
<path d="M1539.8,722.7 A12.0,13.8 0 0 1 1539.8,749.7 A11.2,13.8 0 0 0 1539.8,722.7 Z" fill="#8e9094" opacity="0.55"/>
<path d="M1537.4,736.2 L1545.1,725.6 A12.0,13.8 0 0 1 1549.4,735.0 Z" fill="#fff" opacity="0.3"/>
<path d="M1537.4,736.2 L1529.7,746.8 A12.0,13.8 0 0 1 1525.4,737.4 Z" fill="#fff" opacity="0.3"/>
<path d="M1537.4,736.2 L1530.5,724.9 A12.0,13.8 0 0 1 1540.5,722.9 Z" fill="#000" opacity="0.1"/>
<path d="M1537.4,736.2 L1544.3,747.5 A12.0,13.8 0 0 1 1534.3,749.5 Z" fill="#000" opacity="0.1"/>
<path d="M1537.4,736.2 L1540.5,722.9 A12.0,13.8 0 0 1 1545.1,725.6 Z" fill="#000" opacity="0.04"/>
<path d="M1537.4,736.2 L1534.3,749.5 A12.0,13.8 0 0 1 1529.7,746.8 Z" fill="#000" opacity="0.04"/>
</g>
<g id="dims">
<line x1="88.0" y1="576.8" x2="145.0" y2="576.8" stroke="#000" stroke-width="2.0" />
<line x1="88.0" y1="1487.0" x2="144.6" y2="1487.0" stroke="#000" stroke-width="2.0" />
<line x1="115.9" y1="577.6" x2="115.9" y2="1486.2" stroke="#000" stroke-width="2.0" />
<polygon points="115.9,577.6 120.9,594.6 110.9,594.6" fill="#000"/>
<polygon points="115.9,1486.2 110.9,1469.2 120.9,1469.2" fill="#000"/>
<text transform="translate(73.0,1031.0) rotate(-90) scale(0.924,1)" x="0" y="15.7" text-anchor="middle" font-size="43.9" fill="#1e1e1f" stroke="#1e1e1f" stroke-width="0.7" stroke-linejoin="round" font-weight="normal">750</text>
<line x1="211.3" y1="490.0" x2="211.3" y2="548.5" stroke="#000" stroke-width="2.0" />
<line x1="813.9" y1="561.8" x2="813.9" y2="619.5" stroke="#000" stroke-width="2.0" />
<line x1="212.4" y1="512.0" x2="813.0" y2="582.4" stroke="#000" stroke-width="2.0" />
<polygon points="212.4,512.0 229.9,509.0 228.7,518.9" fill="#000"/>
<polygon points="813.0,582.4 795.5,585.4 796.7,575.5" fill="#000"/>
<text transform="translate(517.2,523.8) skewY(6.7) scale(0.908,1)" x="0" y="15.8" text-anchor="middle" font-size="44.1" fill="#1e1e1f" stroke="#1e1e1f" stroke-width="0.7" stroke-linejoin="round" font-weight="normal">600</text>
<line x1="288.2" y1="558.2" x2="304.8" y2="558.2" stroke="#000" stroke-width="2.0" />
<line x1="288.2" y1="603.2" x2="304.8" y2="603.2" stroke="#000" stroke-width="2.0" />
<line x1="296.8" y1="559.2" x2="296.8" y2="602.2" stroke="#000" stroke-width="2.0" />
<polygon points="296.8,559.2 301.6,574.2 292.0,574.2" fill="#000"/>
<polygon points="296.8,602.2 292.0,587.2 301.6,587.2" fill="#000"/>
<text transform="translate(270.6,582.4) rotate(0) scale(0.977,1)" x="0" y="11.7" text-anchor="middle" font-size="32.4" fill="#1e1e1f" stroke="#1e1e1f" stroke-width="0.7" stroke-linejoin="round" font-weight="normal">35</text>
<line x1="498.9" y1="607.1" x2="498.9" y2="622.6" stroke="#000" stroke-width="2.0" />
<line x1="537.0" y1="610.2" x2="537.0" y2="625.7" stroke="#000" stroke-width="2.0" />
<line x1="499.9" y1="614.8" x2="536.0" y2="617.0" stroke="#000" stroke-width="2.0" />
<polygon points="499.9,614.8 517.2,610.9 516.6,620.7" fill="#000"/>
<polygon points="536.0,617.0 518.7,620.9 519.3,611.1" fill="#000"/>
<text transform="translate(517.8,640.0) skewY(2.5) scale(0.931,1)" x="0" y="12.0" text-anchor="middle" font-size="33.3" fill="#1e1e1f" stroke="#1e1e1f" stroke-width="0.7" stroke-linejoin="round" font-weight="normal">35</text>
<line x1="210.8" y1="729.6" x2="210.8" y2="749.0" stroke="#000" stroke-width="2.0" />
<line x1="280.0" y1="729.6" x2="280.0" y2="749.0" stroke="#000" stroke-width="2.0" />
<line x1="211.8" y1="739.3" x2="279.0" y2="739.3" stroke="#000" stroke-width="2.0" />
<polygon points="211.8,739.3 227.8,734.3 227.8,744.3" fill="#000"/>
<polygon points="279.0,739.3 263.0,744.3 263.0,734.3" fill="#000"/>
<text transform="translate(245.8,715.4) rotate(0) scale(0.969,1)" x="0" y="12.0" text-anchor="middle" font-size="33.3" fill="#1e1e1f" stroke="#1e1e1f" stroke-width="0.7" stroke-linejoin="round" font-weight="normal">60</text>
<line x1="250.1" y1="806.7" x2="279.9" y2="806.7" stroke="#000" stroke-width="2.0" />
<line x1="287.9" y1="806.7" x2="316.7" y2="806.7" stroke="#000" stroke-width="2.0" />
<line x1="279.9" y1="806.7" x2="287.9" y2="806.7" stroke="#000" stroke-width="2.0" />
<polygon points="279.9,806.7 263.9,811.5 263.9,801.9" fill="#000"/>
<polygon points="287.9,806.7 303.9,801.9 303.9,811.5" fill="#000"/>
<line x1="279.9" y1="800.9" x2="279.9" y2="812.5" stroke="#000" stroke-width="2.0" />
<line x1="287.9" y1="800.9" x2="287.9" y2="812.5" stroke="#000" stroke-width="2.0" />
<text transform="translate(239.6,798.7) rotate(0) scale(0.913,1)" x="0" y="11.6" text-anchor="middle" font-size="32.1" fill="#1e1e1f" stroke="#1e1e1f" stroke-width="0.7" stroke-linejoin="round" font-weight="normal">5</text>
<line x1="256.9" y1="876.7" x2="286.0" y2="876.7" stroke="#000" stroke-width="2.0" />
<line x1="297.9" y1="876.7" x2="327.8" y2="876.7" stroke="#000" stroke-width="2.0" />
<line x1="286.0" y1="876.7" x2="297.9" y2="876.7" stroke="#000" stroke-width="2.0" />
<polygon points="286.0,876.7 270.0,881.5 270.0,871.9" fill="#000"/>
<polygon points="297.9,876.7 313.9,871.9 313.9,881.5" fill="#000"/>
<line x1="286.0" y1="870.9" x2="286.0" y2="882.5" stroke="#000" stroke-width="2.0" />
<line x1="297.9" y1="870.9" x2="297.9" y2="882.5" stroke="#000" stroke-width="2.0" />
<text transform="translate(235.8,871.5) rotate(0) scale(0.990,1)" x="0" y="11.6" text-anchor="middle" font-size="32.1" fill="#1e1e1f" stroke="#1e1e1f" stroke-width="0.7" stroke-linejoin="round" font-weight="normal">10</text>
<line x1="267.2" y1="943.6" x2="296.8" y2="943.6" stroke="#000" stroke-width="2.0" />
<line x1="304.8" y1="943.6" x2="333.8" y2="943.6" stroke="#000" stroke-width="2.0" />
<line x1="296.8" y1="943.6" x2="304.8" y2="943.6" stroke="#000" stroke-width="2.0" />
<polygon points="296.8,943.6 280.8,948.4 280.8,938.8" fill="#000"/>
<polygon points="304.8,943.6 320.8,938.8 320.8,948.4" fill="#000"/>
<line x1="296.8" y1="937.8" x2="296.8" y2="949.4" stroke="#000" stroke-width="2.0" />
<line x1="304.8" y1="937.8" x2="304.8" y2="949.4" stroke="#000" stroke-width="2.0" />
<text transform="translate(256.6,935.6) rotate(0) scale(0.920,1)" x="0" y="11.6" text-anchor="middle" font-size="32.1" fill="#1e1e1f" stroke="#1e1e1f" stroke-width="0.7" stroke-linejoin="round" font-weight="normal">5</text>
<line x1="481.7" y1="666.4" x2="500.6" y2="666.4" stroke="#000" stroke-width="2.0" />
<line x1="481.7" y1="1023.0" x2="501.0" y2="1023.0" stroke="#000" stroke-width="2.0" />
<line x1="491.3" y1="667.4" x2="491.3" y2="1022.0" stroke="#000" stroke-width="2.0" />
<polygon points="491.3,667.4 496.3,684.4 486.3,684.4" fill="#000"/>
<polygon points="491.3,1022.0 486.3,1005.0 496.3,1005.0" fill="#000"/>
<text transform="translate(514.0,845.3) rotate(-90) scale(0.980,1)" x="0" y="11.7" text-anchor="middle" font-size="32.3" fill="#1e1e1f" stroke="#1e1e1f" stroke-width="0.7" stroke-linejoin="round" font-weight="normal">300</text>
<line x1="334.2" y1="1028.6" x2="334.2" y2="1048.8" stroke="#000" stroke-width="2.0" />
<line x1="481.7" y1="1023.7" x2="481.7" y2="1043.6" stroke="#000" stroke-width="2.0" />
<line x1="335.2" y1="1037.2" x2="480.7" y2="1034.6" stroke="#000" stroke-width="2.0" />
<polygon points="335.2,1037.2 352.1,1031.9 352.3,1041.9" fill="#000"/>
<polygon points="480.7,1034.6 463.8,1039.9 463.6,1029.9" fill="#000"/>
<text transform="translate(410.0,1057.9) skewY(-1) scale(0.980,1)" x="0" y="11.7" text-anchor="middle" font-size="32.3" fill="#1e1e1f" stroke="#1e1e1f" stroke-width="0.7" stroke-linejoin="round" font-weight="normal">150</text>
<line x1="210.8" y1="1194.5" x2="210.8" y2="1228.0" stroke="#000" stroke-width="2.0" />
<line x1="536.9" y1="1179.0" x2="536.9" y2="1211.8" stroke="#000" stroke-width="2.0" />
<line x1="540.5" y1="1179.0" x2="540.5" y2="1211.8" stroke="#000" stroke-width="2.0" />
<line x1="211.8" y1="1211.0" x2="536.0" y2="1197.6" stroke="#000" stroke-width="2.0" />
<polygon points="211.8,1211.0 228.6,1205.3 229.0,1215.3" fill="#000"/>
<polygon points="536.0,1197.6 519.2,1203.3 518.8,1193.3" fill="#000"/>
<text transform="translate(380.2,1230.0) skewY(-2.4) scale(0.941,1)" x="0" y="15.7" text-anchor="middle" font-size="43.9" fill="#1e1e1f" stroke="#1e1e1f" stroke-width="0.7" stroke-linejoin="round" font-weight="normal">298</text>
<line x1="541.4" y1="1195.8" x2="813.1" y2="1181.8" stroke="#000" stroke-width="2.0" />
<polygon points="541.4,1195.8 558.1,1189.9 558.6,1199.9" fill="#000"/>
<polygon points="813.1,1181.8 796.4,1187.7 795.9,1177.7" fill="#000"/>
<line x1="813.9" y1="1164.2" x2="813.9" y2="1197.8" stroke="#000" stroke-width="2.0" />
<text transform="translate(671.0,1214.5) skewY(-2.9) scale(0.928,1)" x="0" y="15.7" text-anchor="middle" font-size="43.9" fill="#1e1e1f" stroke="#1e1e1f" stroke-width="0.7" stroke-linejoin="round" font-weight="normal">298</text>
<line x1="901.2" y1="680.9" x2="1162.1" y2="680.9" stroke="#000" stroke-width="2.0" />
<line x1="948.0" y1="854.9" x2="1443.6" y2="854.9" stroke="#000" stroke-width="2.0" />
<line x1="948.0" y1="1161.9" x2="1443.6" y2="1161.9" stroke="#000" stroke-width="2.0" />
<line x1="901.2" y1="1359.9" x2="1162.1" y2="1359.9" stroke="#000" stroke-width="2.0" />
<line x1="948.0" y1="1468.7" x2="1443.6" y2="1468.7" stroke="#000" stroke-width="2.0" />
<line x1="1013.0" y1="681.9" x2="1013.0" y2="954.3" stroke="#000" stroke-width="2.0" />
<line x1="1013.0" y1="1078.6" x2="1013.0" y2="1359.0" stroke="#000" stroke-width="2.0" />
<polygon points="1013.0,681.6 1018.0,698.6 1008.0,698.6" fill="#000"/>
<polygon points="1013.0,1359.4 1008.0,1342.4 1018.0,1342.4" fill="#000"/>
<text transform="translate(1014.0,1020.4) rotate(-90) scale(0.932,1)" x="0" y="15.7" text-anchor="middle" font-size="43.9" fill="#1e1e1f" stroke="#1e1e1f" stroke-width="0.7" stroke-linejoin="round" font-weight="normal">550</text>
<line x1="973.9" y1="857.6" x2="973.9" y2="1160.4" stroke="#000" stroke-width="2.0" />
<polygon points="973.9,857.6 978.9,874.6 968.9,874.6" fill="#000"/>
<polygon points="973.9,1160.4 968.9,1143.4 978.9,1143.4" fill="#000"/>
<line x1="973.9" y1="1162.4" x2="973.9" y2="1468.2" stroke="#000" stroke-width="2.0" />
<polygon points="973.9,1162.4 978.9,1179.4 968.9,1179.4" fill="#000"/>
<polygon points="973.9,1468.2 968.9,1451.2 978.9,1451.2" fill="#000"/>
<text transform="translate(947.5,1010.3) rotate(-90) scale(0.943,1)" x="0" y="15.6" text-anchor="middle" font-size="43.6" fill="#1e1e1f" stroke="#1e1e1f" stroke-width="0.7" stroke-linejoin="round" font-weight="normal">224</text>
<text transform="translate(947.5,1315.4) rotate(-90) scale(0.943,1)" x="0" y="15.6" text-anchor="middle" font-size="43.6" fill="#1e1e1f" stroke="#1e1e1f" stroke-width="0.7" stroke-linejoin="round" font-weight="normal">270</text>
<line x1="1147.1" y1="1334.9" x2="1147.1" y2="1589.5" stroke="#000" stroke-width="2.0" />
<line x1="1538.1" y1="1296.2" x2="1538.1" y2="1550.6" stroke="#000" stroke-width="2.0" />
<line x1="1148.2" y1="1562.0" x2="1537.0" y2="1513.6" stroke="#000" stroke-width="2.0" />
<polygon points="1148.2,1562.0 1164.5,1554.9 1165.7,1564.9" fill="#000"/>
<polygon points="1537.0,1513.6 1520.7,1520.7 1519.5,1510.7" fill="#000"/>
<text transform="translate(1355.4,1566.6) skewY(-7.1) scale(0.925,1)" x="0" y="15.8" text-anchor="middle" font-size="44.0" fill="#1e1e1f" stroke="#1e1e1f" stroke-width="0.7" stroke-linejoin="round" font-weight="normal">399</text>
<line x1="1330.3" y1="601.2" x2="1362.9" y2="602.2" stroke="#000" stroke-width="2.0" />
<line x1="1330.3" y1="639.6" x2="1362.9" y2="642.2" stroke="#000" stroke-width="2.0" />
<line x1="1348.1" y1="602.6" x2="1348.1" y2="640.2" stroke="#000" stroke-width="2.0" />
<polygon points="1348.1,602.6 1352.8,616.6 1343.4,616.6" fill="#000"/>
<polygon points="1348.1,640.2 1343.4,626.2 1352.8,626.2" fill="#000"/>
<text transform="translate(1314.7,617.6) rotate(0) scale(0.960,1)" x="0" y="12.0" text-anchor="middle" font-size="33.3" fill="#1e1e1f" stroke="#1e1e1f" stroke-width="0.7" stroke-linejoin="round" font-weight="normal">30</text>
<line x1="1538.0" y1="561.0" x2="1538.0" y2="740.9" stroke="#000" stroke-width="2.0" />
<line x1="1680.4" y1="560.3" x2="1680.4" y2="621.3" stroke="#000" stroke-width="2.0" />
<line x1="1539.0" y1="580.5" x2="1679.4" y2="580.5" stroke="#000" stroke-width="2.0" />
<polygon points="1539.0,580.5 1556.0,575.5 1556.0,585.5" fill="#000"/>
<polygon points="1679.4,580.5 1662.4,585.5 1662.4,575.5" fill="#000"/>
<text transform="translate(1610.0,548.7) rotate(0) scale(1.037,1)" x="0" y="13.6" text-anchor="middle" font-size="37.7" fill="#1e1e1f" stroke="#1e1e1f" stroke-width="0.7" stroke-linejoin="round" font-weight="normal">100</text>
<line x1="1538.8" y1="606.3" x2="1570.4" y2="607.3" stroke="#000" stroke-width="2.0" />
<line x1="1538.8" y1="736.3" x2="1570.4" y2="737.3" stroke="#000" stroke-width="2.0" />
<line x1="1556.9" y1="607.6" x2="1556.9" y2="735.8" stroke="#000" stroke-width="2.0" />
<polygon points="1556.9,607.6 1561.9,624.6 1551.9,624.6" fill="#000"/>
<polygon points="1556.9,735.8 1551.9,718.8 1561.9,718.8" fill="#000"/>
<text transform="translate(1589.9,647.4) rotate(0) scale(1.016,1)" x="0" y="11.2" text-anchor="middle" font-size="31.1" fill="#1e1e1f" stroke="#1e1e1f" stroke-width="0.7" stroke-linejoin="round" font-weight="normal">100</text>
</g>
<polyline points="357.5,994.5 357.5,1583.2 830.8,1583.2" fill="none" stroke="#2ba4ea" stroke-width="1.5"/>
<polyline points="1365.4,865.7 1515.6,469.8 1943,469.8" fill="none" stroke="#2ba4ea" stroke-width="1.5"/>
</svg></body></html>
